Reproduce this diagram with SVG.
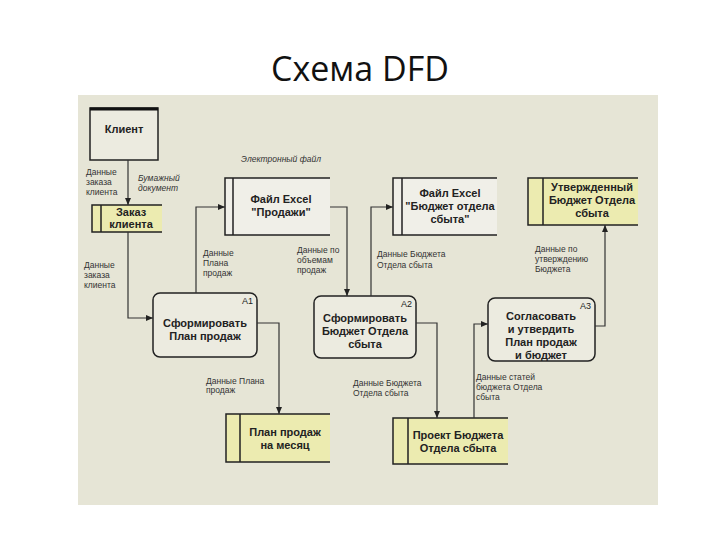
<svg xmlns="http://www.w3.org/2000/svg" width="720" height="540" viewBox="0 0 720 540">
<defs>
<marker id="ar" markerWidth="8" markerHeight="8" refX="7" refY="4" orient="auto" markerUnits="userSpaceOnUse"><path d="M0,1 L7,4 L0,7 Z" fill="#222"/></marker>
<style>
.bx{fill:#ecebe0;stroke:#222;stroke-width:1.5}
.st{stroke:#222;stroke-width:1.5;fill:none}
.y{fill:#ecebb0}
.w{fill:#f0efe8}
.c{fill:none;stroke:#333;stroke-width:1.2;marker-end:url(#ar)}
.t{font-family:"Liberation Sans",Arial,sans-serif;font-size:11px;font-weight:bold;fill:#222;text-anchor:middle}
.l{font-family:"Liberation Sans",Arial,sans-serif;font-size:8.5px;fill:#333}
.i{font-style:italic}
.n{font-family:"Liberation Sans",Arial,sans-serif;font-size:9px;fill:#222;text-anchor:end}
</style>
</defs>
<rect width="720" height="540" fill="#fff"/>
<text x="360" y="81" font-family="'Open Sans','DejaVu Sans',sans-serif" font-size="34" text-anchor="middle" fill="#111">Схема DFD</text>
<rect x="78" y="95" width="580" height="410" fill="#e6e5d6"/>
<g id="client"><rect x="90" y="108" width="68" height="52" class="bx"/><line x1="90" y1="109" x2="158" y2="109" stroke="#111" stroke-width="3"/><text x="124" y="133" class="t">Клиент</text></g>
<g id="order"><rect x="92" y="205" width="70" height="27" class="y"/><path d="M162,205 H92 V232 H162 M101,205 V232" class="st"/><text x="131" y="216" class="t">Заказ</text><text x="131" y="228" class="t">клиента</text></g>
<g id="excel1"><rect x="225" y="178" width="105" height="57" class="w"/><path d="M330,178 H225 V235 H330 M233,178 V235" class="st"/><text x="281" y="203" class="t">Файл Excel</text><text x="281" y="216" class="t">"Продажи"</text></g>
<g id="excel2"><rect x="393" y="178" width="104" height="57" class="w"/><path d="M497,178 H393 V235 H497 M402,178 V235" class="st"/><text x="450" y="197" class="t">Файл Excel</text><text x="450" y="210" class="t">"Бюджет отдела</text><text x="450" y="223" class="t">сбыта"</text></g>
<g id="approved"><rect x="528" y="178" width="110" height="47" class="y"/><path d="M638,178 H528 V225 H638 M543,178 V225" class="st"/><text x="592" y="191" class="t">Утвержденный</text><text x="592" y="204" class="t">Бюджет Отдела</text><text x="592" y="217" class="t">сбыта</text></g>
<g id="a1"><rect x="153" y="293" width="104" height="64" rx="7" class="bx"/><text x="253" y="304" class="n">A1</text><text x="205" y="327" class="t">Сформировать</text><text x="205" y="340" class="t">План продаж</text></g>
<g id="a2"><rect x="314" y="296" width="102" height="62" rx="7" class="bx"/><text x="412" y="307" class="n">A2</text><text x="365" y="322" class="t">Сформировать</text><text x="365" y="335" class="t">Бюджет Отдела</text><text x="365" y="348" class="t">сбыта</text></g>
<g id="a3"><rect x="488" y="298" width="107" height="63" rx="7" class="bx"/><text x="591" y="309" class="n">A3</text><text x="541" y="320" class="t">Согласовать</text><text x="541" y="333" class="t">и утвердить</text><text x="541" y="346" class="t">План продаж</text><text x="541" y="359" class="t">и бюджет</text></g>
<g id="plan"><rect x="226" y="414" width="104" height="48" class="y"/><path d="M330,414 H226 V462 H330 M240,414 V462" class="st"/><text x="285" y="436" class="t">План продаж</text><text x="285" y="449" class="t">на месяц</text></g>
<g id="draft"><rect x="393" y="418" width="115" height="46" class="y"/><path d="M508,418 H393 V464 H508 M408,418 V464" class="st"/><text x="458" y="439" class="t">Проект Бюджета</text><text x="458" y="452" class="t">Отдела сбыта</text></g>
<g id="connectors">
<path d="M128,160 V205" class="c"/>
<path d="M128,232 V318 H153" class="c"/>
<path d="M196,293 V207 H225" class="c"/>
<path d="M330,207 H347 V296" class="c"/>
<path d="M371,296 V207 H393" class="c"/>
<path d="M257,323 H279 V414" class="c"/>
<path d="M416,323 H437 V418" class="c"/>
<path d="M474,418 V324 H488" class="c"/>
<path d="M595,326 H605 V225" class="c"/>
</g>
<g id="labels">
<text class="l" x="86" y="175">Данные</text><text class="l" x="86" y="185">заказа</text><text class="l" x="86" y="195">клиента</text>
<text class="l i" x="138" y="181">Бумажный</text><text class="l i" x="138" y="191">документ</text>
<text class="l i" x="241" y="162">Электронный файл</text>
<text class="l" x="84" y="268">Данные</text><text class="l" x="84" y="278">заказа</text><text class="l" x="84" y="288">клиента</text>
<text class="l" x="203" y="256">Данные</text><text class="l" x="203" y="266">Плана</text><text class="l" x="203" y="276">продаж</text>
<text class="l" x="297" y="253">Данные по</text><text class="l" x="297" y="263">объемам</text><text class="l" x="297" y="273">продаж</text>
<text class="l" x="377" y="257">Данные Бюджета</text><text class="l" x="377" y="268">Отдела сбыта</text>
<text class="l" x="535" y="252">Данные по</text><text class="l" x="535" y="262">утверждению</text><text class="l" x="535" y="272">Бюджета</text>
<text class="l" x="206" y="384">Данные Плана</text><text class="l" x="206" y="393">продаж</text>
<text class="l" x="353" y="386">Данные Бюджета</text><text class="l" x="353" y="396">Отдела сбыта</text>
<text class="l" x="476" y="380">Данные статей</text><text class="l" x="476" y="390">бюджета Отдела</text><text class="l" x="476" y="400">сбыта</text>
</g>
</svg>
